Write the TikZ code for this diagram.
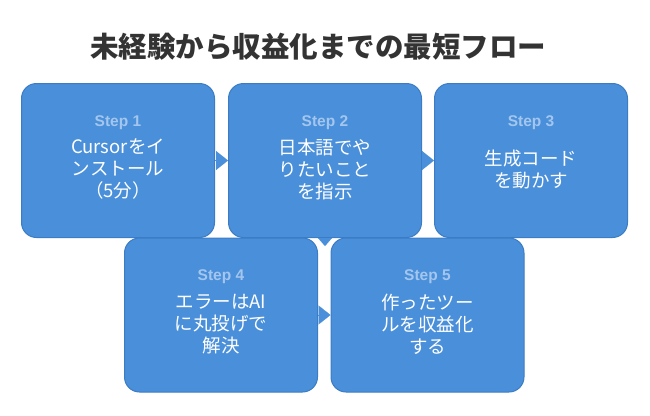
\documentclass[tikz,border=0pt]{standalone}
\usepackage{fontspec}
\setmainfont{Noto Sans CJK JP}
\newfontfamily\stepfont{Liberation Sans}
\usetikzlibrary{arrows.meta}
\definecolor{boxblue}{HTML}{4A8FD9}
\definecolor{boxedge}{HTML}{3B7CC4}
\definecolor{steptxt}{HTML}{A3C6EE}
\definecolor{titletxt}{HTML}{333333}
\tikzset{
  stepbox/.style={draw=boxedge,fill=boxblue,line width=1pt,rounded corners=15pt,
    minimum width=193pt,minimum height=154pt,inner sep=0pt},
  steplabel/.style={text=steptxt,font=\stepfont\fontsize{15.5}{18}\selectfont\bfseries},
  stepbody/.style={text=white,align=center,font=\fontsize{18.5}{22}\selectfont},
  flow/.style={boxblue,line width=0.1pt,-{Triangle[width=19pt,length=12pt]}},
  flowdown/.style={boxblue,line width=0.1pt,-{Triangle[width=14pt,length=8pt]}}
}
\begin{document}
\begin{tikzpicture}[x=1pt,y=-1pt]
\useasboundingbox (0,0) rectangle (650,415);
\node[text=titletxt,font=\fontsize{28.5}{32}\selectfont\bfseries] (title) at (318,47)
  {未経験から収益化までの最短フロー};
% first row
\node[stepbox] (step1) at (118,160.5) {};
\node[stepbox] (step2) at (325,160.5) {};
\node[stepbox] (step3) at (531,160.5) {};
% second row
\node[stepbox] (step4) at (221,315) {};
\node[stepbox] (step5) at (427.5,315) {};
\draw[flow] (step1.east) -- (step2.west);
\draw[flow] (step2.east) -- (step3.west);
\draw[flow] (step4.east) -- (step5.west);
\coordinate (drop) at ([yshift=-8pt]step2.south);
\draw[flowdown] (step2.south) -- (drop);
% texts
\foreach \n in {1,...,5}
  \node[steplabel] at ([yshift=38pt]step\n.center) {Step \n};
\node[stepbody] at ([yshift=-9pt]step1.center) {Cursorをイ\\ンストール\\（5分）};
\node[stepbody] at ([yshift=-9pt]step2.center) {日本語でや\\りたいこと\\を指示};
\node[stepbody] at ([yshift=-9pt]step3.center) {生成コード\\を動かす};
\node[stepbody] at ([yshift=-9pt]step4.center) {エラーはAI\\に丸投げで\\解決};
\node[stepbody] at ([yshift=-9pt]step5.center) {作ったツー\\ルを収益化\\する};
\end{tikzpicture}
\end{document}
